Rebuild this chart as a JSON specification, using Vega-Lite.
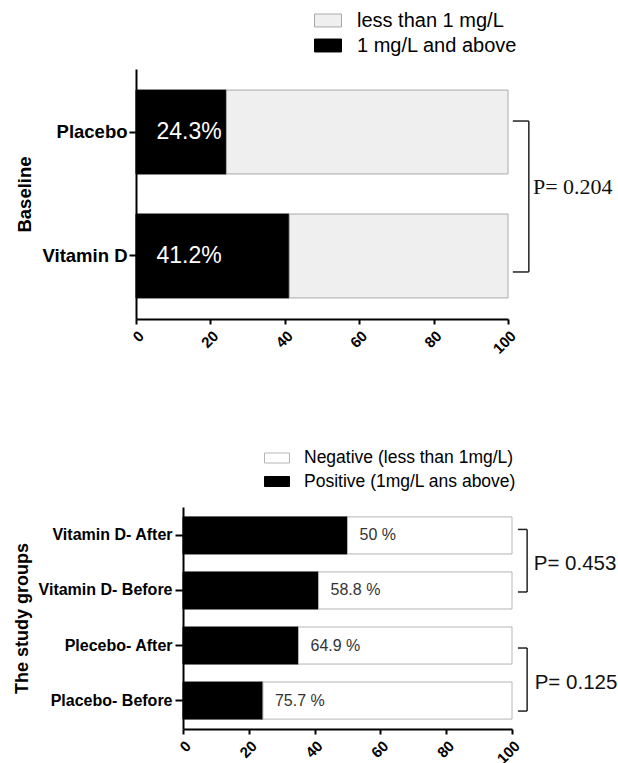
{
  "$schema": "https://vega.github.io/schema/vega-lite/v6.json",
  "padding": {"top": 6, "left": 13, "right": 0, "bottom": 0},
  "spacing": 88,
  "resolve": {
    "scale": {"x": "independent", "y": "independent", "fill": "independent", "stroke": "independent"},
    "legend": {"fill": "independent"}
  },
  "datasets": {
    "baseline": [
      {"group": "Placebo", "status": "1 mg/L and above", "value": 24.3},
      {"group": "Placebo", "status": "less than 1 mg/L", "value": 75.7},
      {"group": "Vitamin D", "status": "1 mg/L and above", "value": 41.2},
      {"group": "Vitamin D", "status": "less than 1 mg/L", "value": 58.8}
    ],
    "baselineP": [
      {"group": "Placebo", "to": "Vitamin D", "p": "P= 0.204"}
    ],
    "groups": [
      {"group": "Vitamin D- After", "status": "Positive (1mg/L ans above)", "value": 50},
      {"group": "Vitamin D- After", "status": "Negative (less than 1mg/L)", "value": 50},
      {"group": "Vitamin D- Before", "status": "Positive (1mg/L ans above)", "value": 41.2},
      {"group": "Vitamin D- Before", "status": "Negative (less than 1mg/L)", "value": 58.8},
      {"group": "Plecebo- After", "status": "Positive (1mg/L ans above)", "value": 35.1},
      {"group": "Plecebo- After", "status": "Negative (less than 1mg/L)", "value": 64.9},
      {"group": "Placebo- Before", "status": "Positive (1mg/L ans above)", "value": 24.3},
      {"group": "Placebo- Before", "status": "Negative (less than 1mg/L)", "value": 75.7}
    ],
    "groupsP": [
      {"group": "Vitamin D- After", "to": "Vitamin D- Before", "p": "P= 0.453"},
      {"group": "Plecebo- After", "to": "Placebo- Before", "p": "P= 0.125"}
    ]
  },
  "vconcat": [
    {
      "width": 372,
      "height": 250,
      "layer": [
        {
          "data": {"name": "baseline"},
          "mark": {"type": "bar", "strokeWidth": 1},
          "encoding": {
            "y": {
              "field": "group",
              "type": "nominal",
              "scale": {"domain": ["Placebo", "Vitamin D"], "paddingInner": 0.323, "paddingOuter": 0.17},
              "axis": {"title": "Baseline", "labelFontSize": 18.5, "tickSize": 7, "labelPadding": 2, "titleFontSize": 18.5, "titlePadding": 8}
            },
            "x": {
              "field": "value",
              "type": "quantitative",
              "stack": "zero",
              "scale": {"domain": [0, 100], "nice": false},
              "axis": {"title": null, "values": [0, 20, 40, 60, 80, 100], "labelAngle": -45, "labelFontSize": 15, "tickSize": 5, "labelPadding": 4}
            },
            "fill": {
              "field": "status",
              "type": "nominal",
              "scale": {"domain": ["less than 1 mg/L", "1 mg/L and above"], "range": ["#efefef", "black"]},
              "legend": {
                "title": null, "orient": "none", "legendX": 178, "legendY": -62.5,
                "symbolType": "M-1,-0.48H1V0.48H-1Z", "symbolSize": 729,
                "symbolStrokeColor": "#aaaaaa", "symbolStrokeWidth": 1,
                "labelFontSize": 20, "labelOffset": 15, "rowPadding": 1, "padding": 0, "labelLimit": 400
              }
            },
            "stroke": {
              "field": "status",
              "type": "nominal",
              "scale": {"domain": ["less than 1 mg/L", "1 mg/L and above"], "range": ["#aaaaaa", "black"]},
              "legend": null
            },
            "order": {"field": "status", "sort": "ascending"}
          }
        },
        {
          "data": {"name": "baseline"},
          "transform": [
            {"filter": "datum.status == '1 mg/L and above'"},
            {"calculate": "datum.value + '%'", "as": "label"}
          ],
          "mark": {"type": "text", "align": "left", "baseline": "middle", "color": "white", "fontSize": 23},
          "encoding": {
            "y": {"field": "group", "type": "nominal"},
            "x": {"datum": 5.5, "type": "quantitative"},
            "text": {"field": "label"}
          }
        },
        {
          "data": {"name": "baselineP"},
          "mark": {"type": "rule", "color": "#222222", "strokeWidth": 1.5, "yOffset": -11, "y2Offset": 16},
          "encoding": {
            "x": {"datum": 105.6, "type": "quantitative"},
            "y": {"field": "group", "type": "nominal"},
            "y2": {"field": "to"}
          }
        },
        {
          "data": {"name": "baselineP"},
          "mark": {"type": "rule", "color": "#222222", "strokeWidth": 1.5, "yOffset": -11},
          "encoding": {
            "x": {"datum": 101.3, "type": "quantitative"},
            "x2": {"datum": 105.6},
            "y": {"field": "group", "type": "nominal"}
          }
        },
        {
          "data": {"name": "baselineP"},
          "mark": {"type": "rule", "color": "#222222", "strokeWidth": 1.5, "yOffset": 16},
          "encoding": {
            "x": {"datum": 101.3, "type": "quantitative"},
            "x2": {"datum": 105.6},
            "y": {"field": "to", "type": "nominal"}
          }
        },
        {
          "data": {"name": "baselineP"},
          "mark": {"type": "text", "align": "left", "baseline": "middle", "font": "Liberation Serif", "fontSize": 22, "color": "#111111", "yOffset": 55},
          "encoding": {
            "x": {"datum": 106.7, "type": "quantitative"},
            "y": {"field": "group", "type": "nominal"},
            "text": {"field": "p"}
          }
        }
      ]
    },
    {
      "width": 376,
      "height": 222,
      "layer": [
        {
          "data": {"name": "groups"},
          "mark": {"type": "bar", "strokeWidth": 1},
          "encoding": {
            "y": {
              "field": "group",
              "type": "nominal",
              "scale": {"domain": ["Vitamin D- After", "Vitamin D- Before", "Plecebo- After", "Placebo- Before"], "paddingInner": 0.327, "paddingOuter": 0.18},
              "axis": {"title": "The study groups", "offset": -47, "labelFontSize": 16, "tickSize": 8, "labelPadding": 3, "titleFontSize": 18, "titlePadding": 7}
            },
            "x": {
              "field": "value",
              "type": "quantitative",
              "stack": "zero",
              "scale": {"domain": [0, 100], "nice": false, "range": [47, 376]},
              "axis": {"title": null, "values": [0, 20, 40, 60, 80, 100], "labelAngle": -45, "labelFontSize": 15, "tickSize": 5, "labelPadding": 4}
            },
            "fill": {
              "field": "status",
              "type": "nominal",
              "scale": {"domain": ["Negative (less than 1mg/L)", "Positive (1mg/L ans above)"], "range": ["white", "black"]},
              "legend": {
                "title": null, "orient": "none", "legendX": 128, "legendY": -62,
                "symbolType": "M-1,-0.4H1V0.4H-1Z", "symbolSize": 625,
                "symbolStrokeColor": "#aaaaaa", "symbolStrokeWidth": 1,
                "labelFontSize": 17.5, "labelOffset": 14, "rowPadding": 1.5, "padding": 0, "labelLimit": 400
              }
            },
            "stroke": {
              "field": "status",
              "type": "nominal",
              "scale": {"domain": ["Negative (less than 1mg/L)", "Positive (1mg/L ans above)"], "range": ["#b5b5b5", "black"]},
              "legend": null
            },
            "order": {"field": "status", "sort": "descending"}
          }
        },
        {
          "data": {"name": "groups"},
          "transform": [
            {"stack": "value", "groupby": ["group"], "sort": [{"field": "status", "order": "descending"}], "as": ["v0", "v1"]},
            {"filter": "datum.status == 'Negative (less than 1mg/L)'"},
            {"calculate": "datum.value + ' %'", "as": "label"}
          ],
          "mark": {"type": "text", "align": "left", "baseline": "middle", "color": "#333333", "fontSize": 16, "dx": 12},
          "encoding": {
            "y": {"field": "group", "type": "nominal"},
            "x": {"field": "v0", "type": "quantitative"},
            "text": {"field": "label"}
          }
        },
        {
          "data": {"name": "groupsP"},
          "transform": [{"filter": "datum.p == 'P= 0.453'"}],
          "mark": {"type": "rule", "color": "#222222", "strokeWidth": 1.5, "yOffset": -6, "y2Offset": 1.5},
          "encoding": {
            "x": {"datum": 104.6, "type": "quantitative"},
            "y": {"field": "group", "type": "nominal"},
            "y2": {"field": "to"}
          }
        },
        {
          "data": {"name": "groupsP"},
          "transform": [{"filter": "datum.p == 'P= 0.453'"}],
          "mark": {"type": "rule", "color": "#222222", "strokeWidth": 1.5, "yOffset": -6},
          "encoding": {
            "x": {"datum": 101.8, "type": "quantitative"},
            "x2": {"datum": 104.6},
            "y": {"field": "group", "type": "nominal"}
          }
        },
        {
          "data": {"name": "groupsP"},
          "transform": [{"filter": "datum.p == 'P= 0.453'"}],
          "mark": {"type": "rule", "color": "#222222", "strokeWidth": 1.5, "yOffset": 1.5},
          "encoding": {
            "x": {"datum": 101.8, "type": "quantitative"},
            "x2": {"datum": 104.6},
            "y": {"field": "to", "type": "nominal"}
          }
        },
        {
          "data": {"name": "groupsP"},
          "transform": [{"filter": "datum.p == 'P= 0.125'"}],
          "mark": {"type": "rule", "color": "#222222", "strokeWidth": 1.5, "yOffset": 2.5, "y2Offset": 10.5},
          "encoding": {
            "x": {"datum": 104.6, "type": "quantitative"},
            "y": {"field": "group", "type": "nominal"},
            "y2": {"field": "to"}
          }
        },
        {
          "data": {"name": "groupsP"},
          "transform": [{"filter": "datum.p == 'P= 0.125'"}],
          "mark": {"type": "rule", "color": "#222222", "strokeWidth": 1.5, "yOffset": 2.5},
          "encoding": {
            "x": {"datum": 101.8, "type": "quantitative"},
            "x2": {"datum": 104.6},
            "y": {"field": "group", "type": "nominal"}
          }
        },
        {
          "data": {"name": "groupsP"},
          "transform": [{"filter": "datum.p == 'P= 0.125'"}],
          "mark": {"type": "rule", "color": "#222222", "strokeWidth": 1.5, "yOffset": 10.5},
          "encoding": {
            "x": {"datum": 101.8, "type": "quantitative"},
            "x2": {"datum": 104.6},
            "y": {"field": "to", "type": "nominal"}
          }
        },
        {
          "data": {"name": "groupsP"},
          "transform": [{"filter": "datum.p == 'P= 0.453'"}],
          "mark": {"type": "text", "align": "left", "baseline": "middle", "fontSize": 20.5, "color": "#111111", "yOffset": 29},
          "encoding": {
            "x": {"datum": 106.6, "type": "quantitative"},
            "y": {"field": "group", "type": "nominal"},
            "text": {"field": "p"}
          }
        },
        {
          "data": {"name": "groupsP"},
          "transform": [{"filter": "datum.p == 'P= 0.125'"}],
          "mark": {"type": "text", "align": "left", "baseline": "middle", "fontSize": 20.5, "color": "#111111", "yOffset": 37.5},
          "encoding": {
            "x": {"datum": 106.9, "type": "quantitative"},
            "y": {"field": "group", "type": "nominal"},
            "text": {"field": "p"}
          }
        }
      ]
    }
  ],
  "config": {
    "font": "Liberation Sans",
    "view": {"stroke": null},
    "axis": {
      "grid": false,
      "domainColor": "black", "domainWidth": 2,
      "tickColor": "black", "tickWidth": 2,
      "labelColor": "black", "titleColor": "black",
      "labelFont": "Liberation Sans", "titleFont": "Liberation Sans",
      "labelFontWeight": "bold", "titleFontWeight": "bold"
    },
    "legend": {"labelFont": "Liberation Sans", "labelColor": "black"},
    "text": {"font": "Liberation Sans"}
  }
}
